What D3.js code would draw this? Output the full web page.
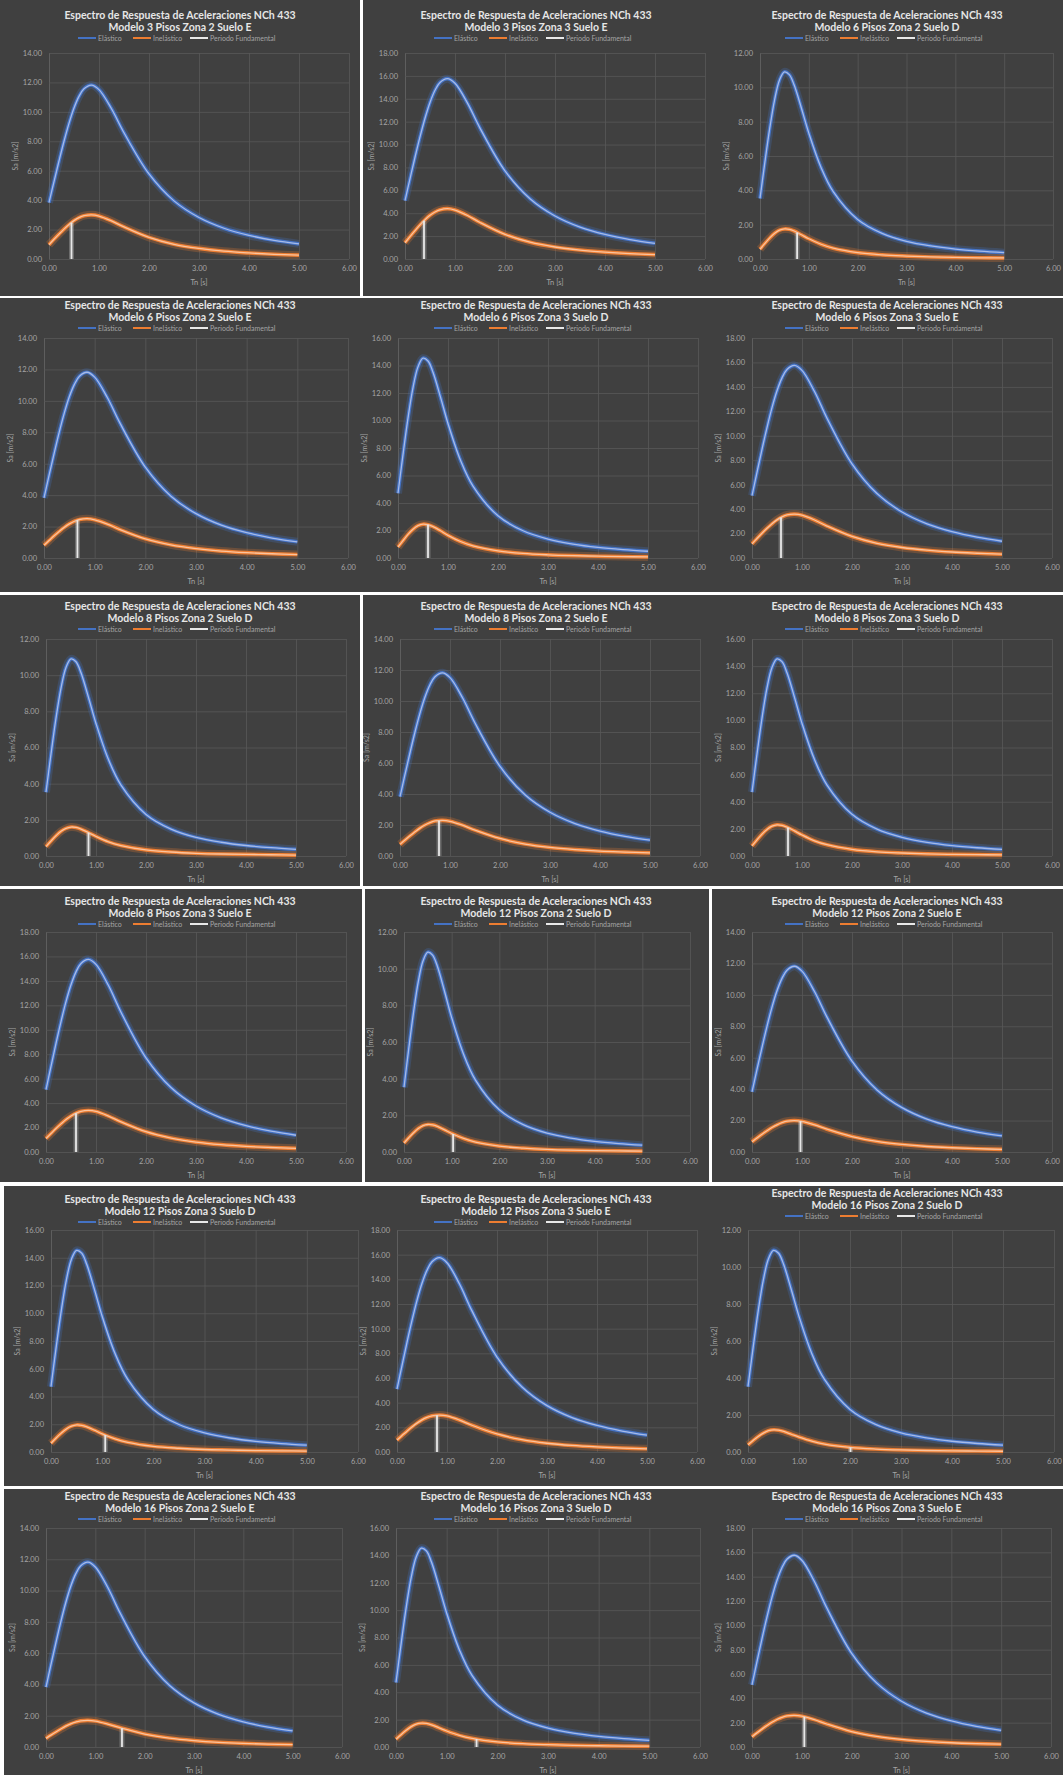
<!DOCTYPE html>
<html>
<head>
<meta charset="utf-8">
<script src="https://cdn.jsdelivr.net/npm/d3@7"></script>
<style>
    body { margin: 0; background: #fff; }
    svg { display: block; }
    text { font-family: Lato, "Open Sans", sans-serif; }
</style>
</head>
<body>
<svg id="collage" width="1063" height="1775"></svg>
<script>
// Periodos Tn [s] donde se leyeron los espectros
var periodos = [0, 0.1, 0.2, 0.3, 0.4, 0.5, 0.6, 0.7, 0.85, 1.0, 1.25, 1.5, 2.0, 2.5, 3.0, 3.5, 4.0, 4.5, 5.0];

// Espectros elasticos Sa [m/s2] (zona / suelo)
var elasticoZ2E = [3.83, 5.26, 6.66, 8.00, 9.22, 10.26, 11.05, 11.57, 11.82, 11.51, 10.21, 8.58, 5.78, 3.95, 2.82, 2.09, 1.61, 1.27, 1.03];
var elasticoZ3E = [5.10, 7.01, 8.89, 10.67, 12.30, 13.68, 14.74, 15.43, 15.76, 15.35, 13.62, 11.44, 7.70, 5.27, 3.76, 2.79, 2.15, 1.70, 1.37];
var elasticoZ2D = [3.53, 5.64, 7.62, 9.29, 10.43, 10.90, 10.74, 10.13, 8.77, 7.33, 5.33, 3.92, 2.30, 1.49, 1.03, 0.76, 0.58, 0.46, 0.37];
var elasticoZ3D = [4.71, 7.52, 10.17, 12.39, 13.90, 14.53, 14.33, 13.51, 11.70, 9.78, 7.11, 5.23, 3.07, 1.98, 1.38, 1.01, 0.77, 0.61, 0.49];

var modelos = [
    "Modelo 3 Pisos Zona 2 Suelo E", "Modelo 3 Pisos Zona 3 Suelo E", "Modelo 6 Pisos Zona 2 Suelo D",
    "Modelo 6 Pisos Zona 2 Suelo E", "Modelo 6 Pisos Zona 3 Suelo D", "Modelo 6 Pisos Zona 3 Suelo E",
    "Modelo 8 Pisos Zona 2 Suelo D", "Modelo 8 Pisos Zona 2 Suelo E", "Modelo 8 Pisos Zona 3 Suelo D",
    "Modelo 8 Pisos Zona 3 Suelo E", "Modelo 12 Pisos Zona 2 Suelo D", "Modelo 12 Pisos Zona 2 Suelo E",
    "Modelo 12 Pisos Zona 3 Suelo D", "Modelo 12 Pisos Zona 3 Suelo E", "Modelo 16 Pisos Zona 2 Suelo D",
    "Modelo 16 Pisos Zona 2 Suelo E", "Modelo 16 Pisos Zona 3 Suelo D", "Modelo 16 Pisos Zona 3 Suelo E"
];
var espectroModelo = ["Z2E", "Z3E", "Z2D", "Z2E", "Z3D", "Z3E", "Z2D", "Z2E", "Z3D",
                      "Z3E", "Z2D", "Z2E", "Z3D", "Z3E", "Z2D", "Z2E", "Z3D", "Z3E"];
var yMaximo = [14, 18, 12, 14, 16, 18, 12, 14, 16, 18, 12, 14, 16, 18, 12, 14, 16, 18];

// Espectros inelasticos por modelo
var inelasticos = [
    [0.97, 1.34, 1.69, 2.03, 2.34, 2.61, 2.81, 2.94, 3.00, 2.92, 2.59, 2.18, 1.47, 1.00, 0.72, 0.53, 0.41, 0.32, 0.26],
    [1.42, 1.96, 2.48, 2.98, 3.43, 3.82, 4.11, 4.30, 4.40, 4.28, 3.80, 3.19, 2.15, 1.47, 1.05, 0.78, 0.60, 0.47, 0.38],
    [0.57, 0.91, 1.23, 1.50, 1.68, 1.75, 1.73, 1.63, 1.41, 1.18, 0.86, 0.63, 0.37, 0.24, 0.17, 0.12, 0.09, 0.07, 0.06],
    [0.81, 1.11, 1.41, 1.69, 1.95, 2.17, 2.34, 2.45, 2.50, 2.43, 2.16, 1.81, 1.22, 0.84, 0.60, 0.44, 0.34, 0.27, 0.22],
    [0.80, 1.27, 1.72, 2.09, 2.35, 2.46, 2.42, 2.28, 1.98, 1.65, 1.20, 0.88, 0.52, 0.33, 0.23, 0.17, 0.13, 0.10, 0.08],
    [1.16, 1.60, 2.03, 2.43, 2.80, 3.12, 3.36, 3.52, 3.59, 3.50, 3.11, 2.61, 1.76, 1.20, 0.86, 0.64, 0.49, 0.39, 0.31],
    [0.52, 0.83, 1.12, 1.37, 1.53, 1.60, 1.58, 1.49, 1.29, 1.08, 0.78, 0.58, 0.34, 0.22, 0.15, 0.11, 0.09, 0.07, 0.05],
    [0.75, 1.03, 1.30, 1.56, 1.80, 2.00, 2.15, 2.26, 2.30, 2.24, 1.99, 1.67, 1.13, 0.77, 0.55, 0.41, 0.31, 0.25, 0.20],
    [0.74, 1.19, 1.61, 1.96, 2.20, 2.30, 2.26, 2.13, 1.85, 1.55, 1.12, 0.83, 0.49, 0.31, 0.22, 0.16, 0.12, 0.10, 0.08],
    [1.10, 1.51, 1.92, 2.30, 2.66, 2.95, 3.18, 3.33, 3.40, 3.32, 2.94, 2.47, 1.66, 1.14, 0.81, 0.60, 0.46, 0.37, 0.30],
    [0.49, 0.78, 1.05, 1.28, 1.44, 1.50, 1.48, 1.40, 1.21, 1.01, 0.74, 0.54, 0.32, 0.21, 0.14, 0.10, 0.08, 0.06, 0.05],
    [0.65, 0.89, 1.13, 1.35, 1.56, 1.73, 1.87, 1.96, 2.00, 1.95, 1.73, 1.45, 0.98, 0.67, 0.48, 0.35, 0.27, 0.21, 0.17],
    [0.63, 1.01, 1.36, 1.66, 1.86, 1.95, 1.92, 1.81, 1.57, 1.31, 0.95, 0.70, 0.41, 0.27, 0.18, 0.14, 0.10, 0.08, 0.07],
    [0.97, 1.33, 1.69, 2.03, 2.34, 2.60, 2.80, 2.93, 2.99, 2.92, 2.59, 2.17, 1.46, 1.00, 0.71, 0.53, 0.41, 0.32, 0.26],
    [0.39, 0.62, 0.84, 1.02, 1.15, 1.20, 1.18, 1.11, 0.96, 0.81, 0.59, 0.43, 0.25, 0.16, 0.11, 0.08, 0.06, 0.05, 0.04],
    [0.55, 0.76, 0.96, 1.15, 1.33, 1.48, 1.59, 1.67, 1.70, 1.66, 1.47, 1.24, 0.83, 0.57, 0.41, 0.30, 0.23, 0.18, 0.15],
    [0.57, 0.90, 1.22, 1.49, 1.67, 1.74, 1.72, 1.62, 1.40, 1.17, 0.85, 0.63, 0.37, 0.24, 0.17, 0.12, 0.09, 0.07, 0.06],
    [0.84, 1.16, 1.47, 1.76, 2.03, 2.26, 2.43, 2.55, 2.60, 2.53, 2.25, 1.89, 1.27, 0.87, 0.62, 0.46, 0.35, 0.28, 0.23]
];

// Periodo fundamental T* [s] y su Sa inelastico
var periodoFundamental = [0.45, 0.38, 0.76, 0.66, 0.60, 0.58, 0.85, 0.78, 0.72, 0.60, 1.03, 0.97, 1.06, 0.80, 2.01, 1.54, 1.59, 1.05];
var saFundamental = [2.47, 3.34, 1.54, 2.41, 2.42, 3.31, 1.29, 2.28, 2.09, 3.18, 0.98, 1.96, 1.22, 2.97, 0.25, 1.20, 0.58, 2.47];

var xTicks = [0, 1, 2, 3, 4, 5, 6];
var leyenda = ["Elástico", "Inelástico", "Periodo Fundamental"];
var tituloGeneral = "Espectro de Respuesta de Aceleraciones NCh 433";

// layout of the collage (pixels)
var rowTop = [0, 298, 595, 889, 1186, 1489],
    rowBottom = [296, 592, 886, 1182, 1486, 1775],
    colLeft = [0, 363, 711],
    colRight = [360, 709, 1063];
var titleY = [15, 305, 606, 901, 1199, 1496],
    plotTop = [53, 338, 639, 932, 1230, 1528],
    plotBottom = [259, 558, 856, 1152, 1452, 1747];
var plotLeft = [49, 405, 760, 44, 398, 752, 46, 400, 752, 46, 404, 752, 51, 397, 748, 46, 396, 752],
    plotWidth = [300, 300, 293, 304, 300, 300, 300, 300, 300, 300, 286, 300, 307, 300, 306, 296, 304, 299];
// white cuts of the collage: [x, y, w, h]
var cortes = [
    [0, 296, 1063, 2], [0, 592, 1063, 3], [0, 886, 1063, 3], [0, 1182, 1063, 4], [0, 1486, 1063, 3],
    [360, 0, 3, 296], [360, 595, 3, 291], [362, 889, 3, 293], [709, 889, 3, 293],
    [0, 1186, 4, 300], [0, 1489, 4, 286]
];

var colores = {
    fondo: "#404040",
    grid: "#585858",
    label: "#a5a5a5",
    titulo: "#e6e6e6",
    azul: "#4472c4",
    azulClaro: "#b7c8ee",
    naranja: "#ed7d31",
    naranjaClaro: "#fbd0b2",
    blanco: "#e8e8e8"
};

var elasticos = { Z2E: elasticoZ2E, Z3E: elasticoZ3E, Z2D: elasticoZ2D, Z3D: elasticoZ3D };
var fmt = d3.format(".2f");

var svg = d3.select("#collage");
svg.append("rect").attr("width", 1063).attr("height", 1775).attr("fill", colores.fondo);

modelos.forEach(function (modelo, i) {
    var row = Math.floor(i / 3), col = i % 3;
    var x0 = colLeft[col], x1 = colRight[col];
    var pt = plotTop[row], pb = plotBottom[row], pl = plotLeft[i], pw = plotWidth[i];
    var ty = titleY[row] + (i === 14 ? -6 : 0);

    var g = svg.append("g");

    var x = d3.scaleLinear().domain([0, 6]).range([pl, pl + pw]);
    var y = d3.scaleLinear().domain([0, yMaximo[i]]).range([pb, pt]);
    var yTicks = d3.range(0, yMaximo[i] + 0.01, 2);

    // Grid + axes
    var gx = g.append("g").attr("transform", "translate(0," + pb + ")")
        .call(d3.axisBottom(x).tickValues(xTicks).tickSize(-(pb - pt)).tickPadding(7).tickFormat(fmt));
    var gy = g.append("g").attr("transform", "translate(" + pl + ",0)")
        .call(d3.axisLeft(y).tickValues(yTicks).tickSize(-pw).tickPadding(7).tickFormat(fmt));
    [gx, gy].forEach(function (ax) {
        ax.select(".domain").remove();
        ax.selectAll("line").attr("stroke", colores.grid).attr("stroke-width", 0.8);
        ax.selectAll("text").attr("fill", colores.label).style("font-size", "7.5px");
    });
    gx.selectAll(".tick").filter(function (d) { return d === 0; }).select("line")
        .attr("stroke", "#666");

    // Axis titles
    g.append("text")
        .attr("x", pl + pw / 2).attr("y", pb + 26)
        .attr("text-anchor", "middle")
        .attr("fill", colores.label).style("font-size", "7.5px")
        .text("Tn [s]");
    g.append("text")
        .attr("transform", "translate(" + (pl - 31) + "," + ((pt + pb) / 2) + ") rotate(-90)")
        .attr("text-anchor", "middle")
        .attr("fill", colores.label).style("font-size", "7px")
        .text("Sa [m/s2]");

    // Titles
    var cx = (x0 + x1) / 2;
    g.append("text")
        .attr("x", cx).attr("y", ty + 4)
        .attr("text-anchor", "middle")
        .attr("fill", colores.titulo).style("font-size", "10.5px").style("font-weight", "bold")
        .text(tituloGeneral);
    g.append("text")
        .attr("x", cx).attr("y", ty + 16)
        .attr("text-anchor", "middle")
        .attr("fill", colores.titulo).style("font-size", "10.5px").style("font-weight", "bold")
        .text(modelo);

    // Legend
    var ly = ty + 23;
    var lx = cx - 102;
    var legendColors = [colores.azul, colores.naranja, colores.blanco];
    var offsets = [0, 55, 112];
    leyenda.forEach(function (name, k) {
        g.append("line")
            .attr("x1", lx + offsets[k]).attr("x2", lx + offsets[k] + 18)
            .attr("y1", ly).attr("y2", ly)
            .attr("stroke", legendColors[k]).attr("stroke-width", 2);
        g.append("text")
            .attr("x", lx + offsets[k] + 20).attr("y", ly + 2.5)
            .attr("fill", colores.label).style("font-size", "7px")
            .text(name);
    });

    // Series
    var line = d3.line()
        .x(function (d) { return x(d[0]); })
        .y(function (d) { return y(d[1]); })
        .curve(d3.curveCatmullRom.alpha(0.5));

    var elastico = elasticos[espectroModelo[i]].map(function (v, k) { return [periodos[k], v]; });
    var inelastico = inelasticos[i].map(function (v, k) { return [periodos[k], v]; });

    function drawGlow(data, base, light) {
        g.append("path").attr("d", line(data)).attr("fill", "none")
            .attr("stroke", base).attr("stroke-opacity", 0.25).attr("stroke-width", 8);
        g.append("path").attr("d", line(data)).attr("fill", "none")
            .attr("stroke", base).attr("stroke-width", 3.6);
        g.append("path").attr("d", line(data)).attr("fill", "none")
            .attr("stroke", light).attr("stroke-opacity", 0.85).attr("stroke-width", 1.3);
    }
    drawGlow(elastico, colores.azul, colores.azulClaro);
    drawGlow(inelastico, colores.naranja, colores.naranjaClaro);

    // Periodo fundamental
    var tf = periodoFundamental[i];
    var pf = [[tf, 0], [tf, saFundamental[i]]];
    var vline = d3.line().x(function (d) { return x(d[0]); }).y(function (d) { return y(d[1]); });
    g.append("path").attr("d", vline(pf))
        .attr("stroke", "#bfbfbf").attr("stroke-opacity", 0.35).attr("stroke-width", 5);
    g.append("path").attr("d", vline(pf))
        .attr("stroke", colores.blanco).attr("stroke-width", 1.8);
});

// white cuts between the pasted charts
svg.selectAll("rect.corte")
    .data(cortes).enter()
    .append("rect").attr("class", "corte")
    .attr("x", function (d) { return d[0]; })
    .attr("y", function (d) { return d[1]; })
    .attr("width", function (d) { return d[2]; })
    .attr("height", function (d) { return d[3]; })
    .attr("fill", "#ffffff");
</script>
</body>
</html>
